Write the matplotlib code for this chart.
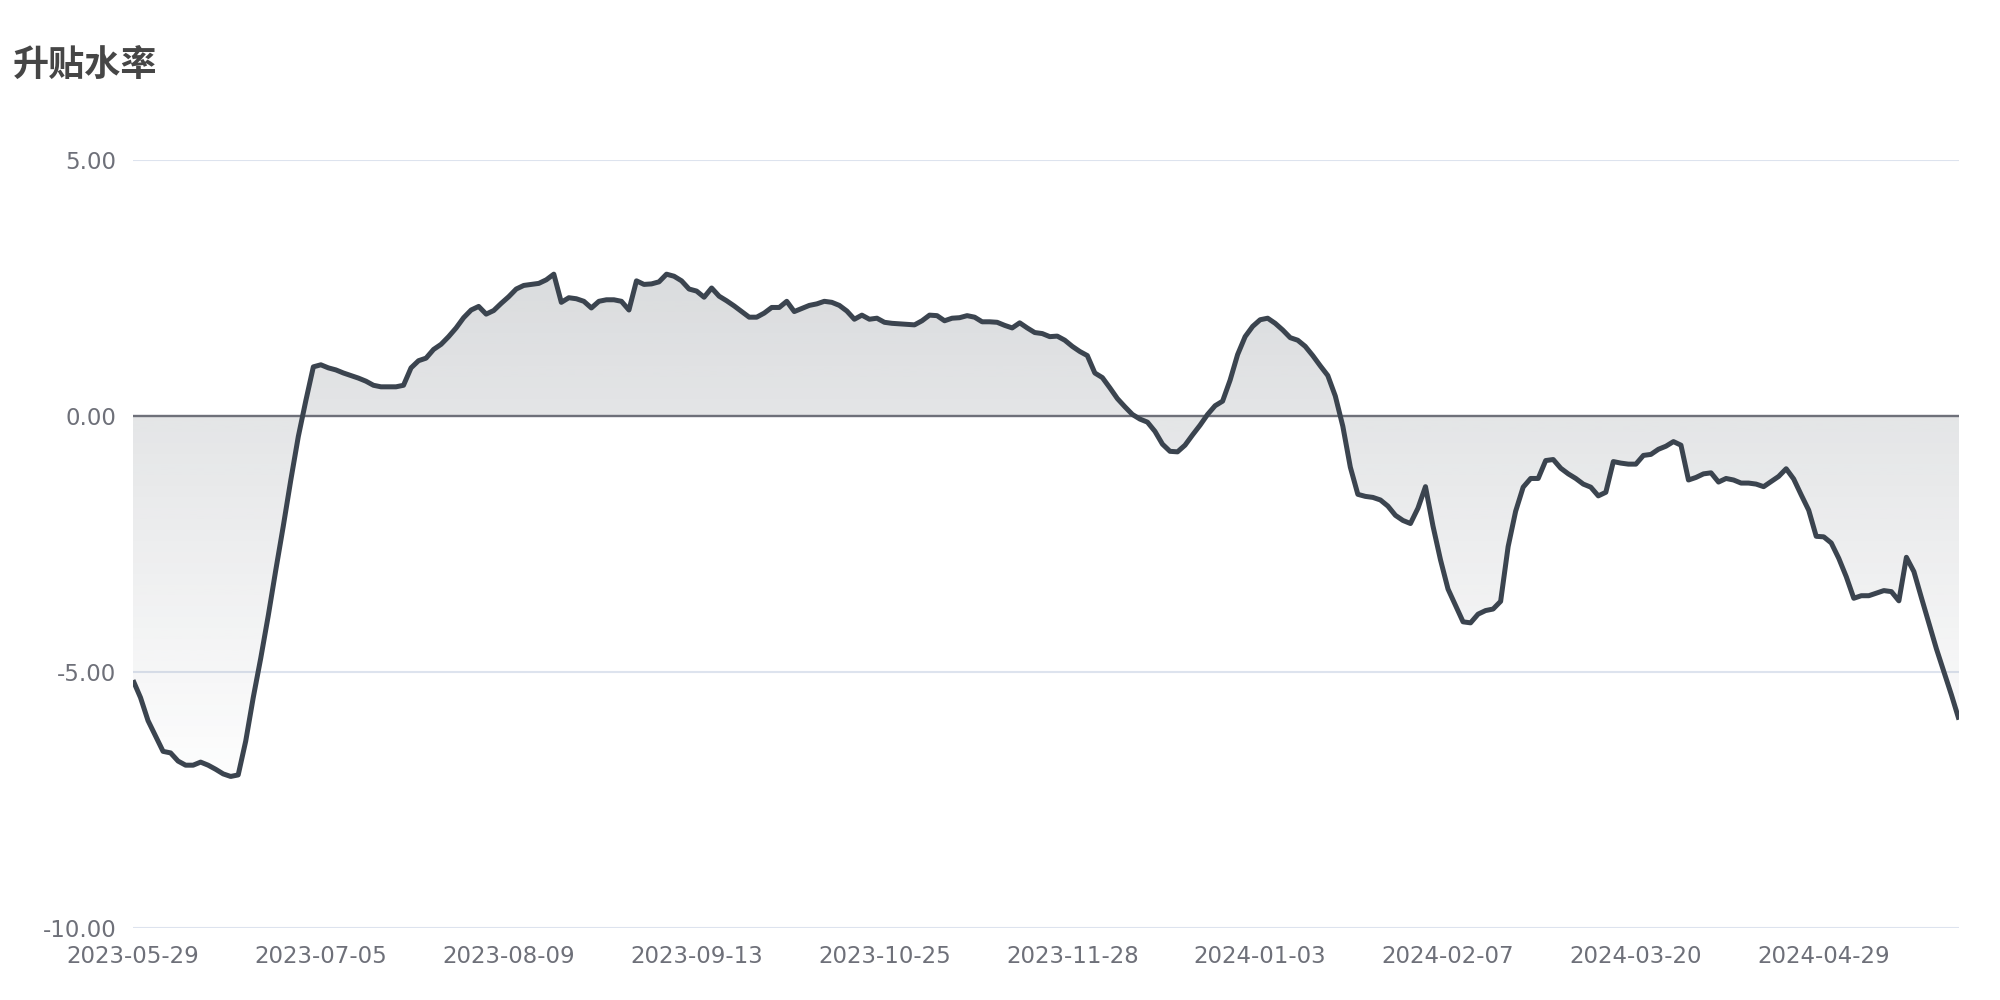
import matplotlib
matplotlib.use("Agg")
import matplotlib.pyplot as plt
import numpy as np

title = "升贴水率"
tick_labels = ["2023-05-29", "2023-07-05", "2023-08-09", "2023-09-13", "2023-10-25",
               "2023-11-28", "2024-01-03", "2024-02-07", "2024-03-20", "2024-04-29"]
tick_every = 25
y_ticks = [-10, -5, 0, 5]

values = [
    -5.16, -5.5, -5.95, -6.25, -6.55, -6.58, -6.74, -6.82, -6.82, -6.76,
    -6.82, -6.9, -6.99, -7.04, -7.01, -6.35, -5.5, -4.73, -3.9, -3.01,
    -2.15, -1.25, -0.4, 0.3, 0.96, 1.0, 0.94, 0.9, 0.84, 0.79,
    0.74, 0.68, 0.6, 0.57, 0.57, 0.57, 0.6, 0.94, 1.08, 1.13,
    1.3, 1.4, 1.55, 1.72, 1.92, 2.07, 2.14, 1.99, 2.06, 2.2,
    2.33, 2.48, 2.55, 2.57, 2.59, 2.66, 2.77, 2.22, 2.31, 2.29,
    2.24, 2.11, 2.24, 2.27, 2.27, 2.24, 2.07, 2.64, 2.57, 2.58,
    2.62, 2.77, 2.73, 2.64, 2.48, 2.44, 2.32, 2.50, 2.34, 2.25,
    2.15, 2.04, 1.93, 1.93, 2.01, 2.12, 2.12, 2.24, 2.04, 2.1,
    2.16, 2.19, 2.24, 2.22, 2.16, 2.05, 1.89, 1.97, 1.89, 1.91,
    1.83, 1.81, 1.80, 1.79, 1.78, 1.86, 1.97, 1.96, 1.86, 1.91,
    1.92, 1.96, 1.93, 1.84, 1.84, 1.83, 1.77, 1.72, 1.82, 1.72,
    1.63, 1.61, 1.55, 1.56, 1.48, 1.36, 1.26, 1.18, 0.84, 0.75,
    0.55, 0.34, 0.18, 0.03, -0.06, -0.12, -0.30, -0.55, -0.69, -0.70,
    -0.57, -0.37, -0.18, 0.03, 0.2, 0.29, 0.70, 1.2, 1.55, 1.75,
    1.88, 1.91, 1.81, 1.68, 1.53, 1.48, 1.36, 1.18, 0.98, 0.79,
    0.39, -0.2, -1.0, -1.53, -1.57, -1.59, -1.64, -1.76, -1.94, -2.04,
    -2.10, -1.8, -1.38, -2.15, -2.81, -3.38, -3.70, -4.02, -4.04, -3.87,
    -3.80, -3.77, -3.62, -2.55, -1.86, -1.39, -1.22, -1.22, -0.87, -0.85,
    -1.02, -1.13, -1.22, -1.33, -1.39, -1.56, -1.49, -0.89, -0.92, -0.94,
    -0.94, -0.77, -0.75, -0.65, -0.59, -0.50, -0.57, -1.25, -1.20, -1.13,
    -1.11, -1.29, -1.22, -1.25, -1.31, -1.31, -1.33, -1.38, -1.28, -1.18,
    -1.03, -1.23, -1.54, -1.84, -2.35, -2.36, -2.48, -2.78, -3.14, -3.56,
    -3.51, -3.51, -3.46, -3.41, -3.43, -3.61, -2.76, -3.04, -3.55, -4.05,
    -4.55, -5.0, -5.45, -5.93,
]

line_color = "#3b444f"
label_color = "#6e7079"
grid_color = "#dde3ee"

fig = plt.figure(figsize=(20, 10), dpi=100)
ax = fig.add_axes([0.0665, 0.072, 0.913, 0.768])

x = np.arange(len(values))
y = np.array(values)
n = len(values)

# gradient area between line and zero
poly = ax.fill_between(x, y, 0, facecolor="none", edgecolor="none", zorder=1)
ymax, ymin = y.max(), y.min()
grad = np.zeros((256, 1, 4))
base = np.array([59, 68, 79]) / 255.0
grad[:, 0, :3] = base
grad[:, 0, 3] = np.linspace(0.19, 0.01, 256)
img = ax.imshow(grad, extent=[0, n - 1, ymin, ymax], aspect="auto",
                origin="upper", zorder=1, interpolation="bilinear")
path = poly.get_paths()[0]
img.set_clip_path(path, transform=ax.transData)

# grid lines
for t in y_ticks:
    ax.axhline(t, color=grid_color, lw=1.5, zorder=0.5)
ax.axhline(0, color=label_color, lw=1.7, zorder=2)

ax.plot(x, y, color=line_color, lw=3.6, solid_joinstyle="round",
        solid_capstyle="butt", zorder=3)

ax.set_xlim(0, n - 1)
ax.set_ylim(-10, 5)
ax.set_yticks(y_ticks)
ax.set_yticklabels([f"{t:.2f}" for t in y_ticks])
ax.set_xticks(np.arange(0, n, tick_every)[:len(tick_labels)])
ax.set_xticklabels(tick_labels)
ax.tick_params(axis="both", length=0, labelsize=16.5, colors=label_color)
ax.tick_params(axis="y", pad=12)
ax.tick_params(axis="x", pad=12.5)
for s in ax.spines.values():
    s.set_visible(False)
ax.set_facecolor("white")

fig.text(0.0065, 0.935, title, fontsize=26, fontweight="bold", color="#464646",
         ha="left", va="center", family=["Noto Sans CJK SC", "DejaVu Sans"])

fig.savefig("out.png", dpi=100, facecolor="white")
